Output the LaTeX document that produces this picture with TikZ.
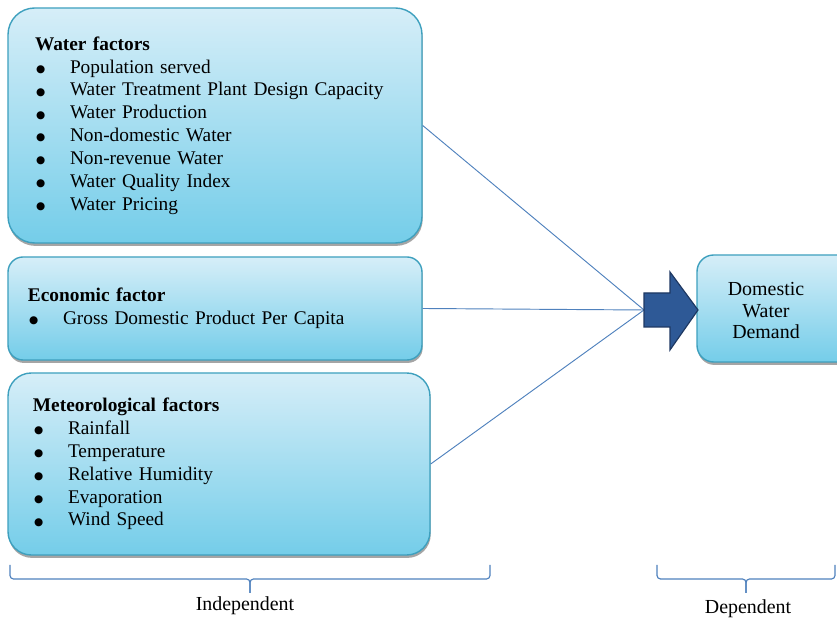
\documentclass[tikz,border=0pt]{standalone}
\usepackage{fontspec}
\setmainfont{Liberation Serif}
\newfontfamily\dotfont{DejaVu Sans}
\usetikzlibrary{shadows}
\definecolor{boxtop}{RGB}{214,238,248}
\definecolor{boxbot}{RGB}{116,205,233}
\definecolor{boxedge}{RGB}{62,160,190}
\definecolor{linkblue}{RGB}{79,129,189}
\definecolor{arrowfill}{RGB}{46,89,150}
\definecolor{arrowedge}{RGB}{30,56,98}
\newcommand{\bitem}{\makebox[1.05cm][l]{\hspace{1pt}\raisebox{0.6pt}{\dotfont\fontsize{9}{9}\selectfont ●}}}
\tikzset{
  factor/.style={draw=boxedge, line width=1.2pt, top color=boxtop,
                 bottom color=boxbot, align=left, inner ysep=0pt,
                 font=\fontsize{16.5}{19.5}\selectfont,
                 drop shadow={shadow xshift=.6pt, shadow yshift=-2.5pt,
                              opacity=.5, fill=black!70}},
  outcome/.style={factor, align=center, font=\fontsize{17}{18.5}\selectfont},
  link/.style={draw=linkblue, line width=0.8pt},
  brace/.style={draw=linkblue, line width=1pt, rounded corners=3pt},
  side/.style={font=\fontsize{17}{19}\selectfont},
}

\begin{document}
\begin{tikzpicture}
\useasboundingbox (0,0) rectangle (25.11,18.63);

% independent variables
\node[factor, rounded corners=0.8cm, minimum width=12.42cm, minimum height=7.05cm,
      inner xsep=0.81cm, text width=10.8cm] (water) at (6.45,14.865)
  {\textbf{Water factors}\\
   \bitem Population served\\
   \bitem Water Treatment Plant Design Capacity\\
   \bitem Water Production\\
   \bitem Non-domestic Water\\
   \bitem Non-revenue Water\\
   \bitem Water Quality Index\\
   \bitem Water Pricing};

\node[factor, rounded corners=0.45cm, minimum width=12.42cm, minimum height=3.09cm,
      inner xsep=0.6cm, text width=11.22cm] (econ) at (6.45,9.375)
  {\textbf{Economic factor}\\
   \bitem Gross Domestic Product Per Capita};

\node[factor, rounded corners=0.7cm, minimum width=12.66cm, minimum height=5.46cm,
      inner xsep=0.75cm, text width=11.16cm] (meteo) at (6.57,4.71)
  {\textbf{Meteorological factors}\\
   \bitem Rainfall\\
   \bitem Temperature\\
   \bitem Relative Humidity\\
   \bitem Evaporation\\
   \bitem Wind Speed};

% dependent variable (box runs off the right edge)
\node[outcome, rounded corners=0.5cm, minimum width=4.8cm, minimum height=3.21cm]
  (demand) at (23.31,9.375) {};
\node[font=\fontsize{17}{18.5}\selectfont, align=center] (demandtext)
  at (22.98,9.31) {Domestic\\Water\\Demand};

\coordinate (tail) at (19.32,9.33);
\draw[link] (water.east) -- (tail);
\draw[link] (econ.east) -- (tail);
\draw[link] (meteo.east) -- (tail);

% block arrow
\filldraw[fill=arrowfill, draw=arrowedge, line width=1pt, line join=miter]
  (19.32,9.84) -- (20.1,9.84) -- (20.1,10.47) -- (20.94,9.33)
  -- (20.1,8.13) -- (20.1,8.82) -- (19.32,8.82) -- cycle;

% braces
\draw[brace] (0.3,1.68) |- (7.5,1.26) -- (7.5,0.84);
\draw[brace] (14.7,1.68) |- (7.5,1.26) -- (7.5,0.84);
\draw[brace] (19.71,1.68) |- (22.38,1.26) -- (22.38,0.84);
\draw[brace] (25.05,1.68) |- (22.38,1.26) -- (22.38,0.84);
\node[side] (indep) at (7.35,0.45) {Independent};
\node[side] (dep) at (22.44,0.36) {Dependent};

\end{tikzpicture}
\end{document}
